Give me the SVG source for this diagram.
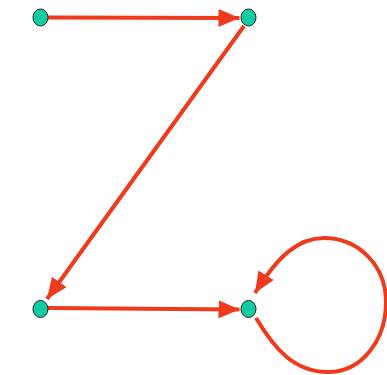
<svg xmlns="http://www.w3.org/2000/svg" width="387" height="375" viewBox="0 0 387 375">
<style>
.edge{fill:none;stroke:#ef3a1b;stroke-width:4;marker-end:url(#ah)}
.node{fill:#0fcca3;stroke:#222;stroke-width:1}
</style>
<defs>
<marker id="ah" markerUnits="userSpaceOnUse" markerWidth="21" markerHeight="18" refX="21" refY="9" orient="auto" viewBox="0 0 21 18">
<path d="M0,0 L21,9 L0,18 z" fill="#ef3a1b"/>
</marker>
</defs>
<rect width="387" height="375" fill="#fff"/>
<g id="connectors">
<path class="edge" d="M48,17.5 L239.5,18"/>
<path class="edge" d="M244,26 L47,299"/>
<path class="edge" d="M48,308 L239.5,309.5"/>
<path class="edge" d="M256,318 C275,350 295,372 328,372 C362,372 386,340 386,302 C386,265 358,238 324,238 C298,238 278,256 255,293"/>
</g>
<g id="n1"><ellipse class="node" cx="40.5" cy="17.5" rx="7.5" ry="8.5"/></g>
<g id="n2"><ellipse class="node" cx="248.5" cy="17.5" rx="7.5" ry="8.5"/></g>
<g id="n3"><ellipse class="node" cx="40.5" cy="309" rx="7.5" ry="8.5"/></g>
<g id="n4"><ellipse class="node" cx="248.5" cy="309" rx="7.5" ry="8.5"/></g>
</svg>
